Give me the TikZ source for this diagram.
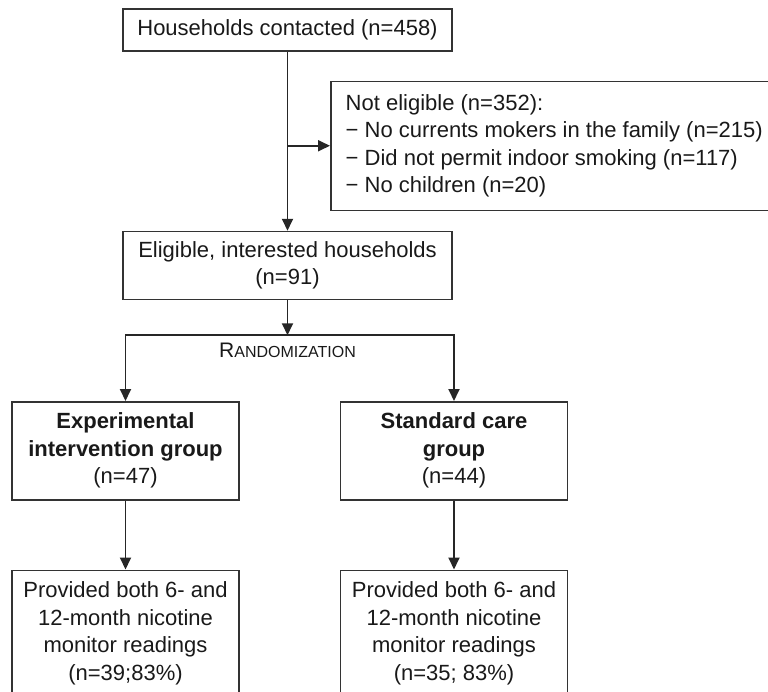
\documentclass[tikz,border=0pt]{standalone}
\usepackage{fontspec}
\setmainfont{Liberation Sans}
\usetikzlibrary{positioning,arrows.meta}

\begin{document}
\begin{tikzpicture}[node distance=34.5pt,>={Triangle[length=6pt,width=5.5pt]},font=\fontsize{11}{13.75}\selectfont,text=black!90]
\tikzstyle{block}=[rectangle,draw=black!80,line width=0.75pt,align=center,inner sep=0pt]
\tikzstyle{note}=[rectangle,draw=black!80,line width=0.75pt,align=left,inner xsep=7.5pt,minimum height=64.5pt]
\tikzstyle{group}=[block,minimum width=113.5pt,minimum height=49pt]
\tikzstyle{line}=[draw=black!85,line width=0.9pt]
\path[use as bounding box,clip] (0,0) rectangle (384pt,-346pt);
\node[block,minimum width=164.5pt,minimum height=21pt] (hh) at (143.75pt,-15pt) {Households contacted (n=458)};
\coordinate[below=47pt of hh.south] (split);
\node[note,right=21.25pt of split] (notel) {Not eligible (n=352):\\− No currents mokers in the family (n=215)\\− Did not permit indoor smoking (n=117)\\− No children (n=20)};
\node[block,minimum width=164.5pt,minimum height=34pt,below=89.5pt of hh] (elig) {Eligible, interested households\\(n=91)};
\coordinate[below=17.5pt of elig] (rnd);
\node[inner sep=0pt,below=3.5pt of rnd] (rndlbl) {{\fontsize{10.5}{12}\selectfont R}{\fontsize{8}{10}\selectfont ANDOMIZATION}};
\node[group,anchor=north] (exp) at (62.75pt,-200.5pt) {\textbf{Experimental}\\\textbf{intervention group}\\(n=47)};
\node[group,right=50pt of exp] (std) {\textbf{Standard care}\\\textbf{group}\\(n=44)};
\node[group,minimum height=63pt,below=of exp] (prov1) {Provided both 6- and\\12-month nicotine\\monitor readings\\(n=39;83\%)};
\node[group,minimum height=63pt,below=of std] (prov2) {Provided both 6- and\\12-month nicotine\\monitor readings\\(n=35; 83\%)};
\draw[line,->] (hh) -- (elig);
\draw[line,->] (split) -- (notel);
\draw[line,->] (elig) -- (rnd);
\draw[line,->] (rnd) -| (exp);
\draw[line,->] (rnd) -| (std);
\draw[line,->] (exp) -- (prov1);
\draw[line,->] (std) -- (prov2);
\end{tikzpicture}
\end{document}
